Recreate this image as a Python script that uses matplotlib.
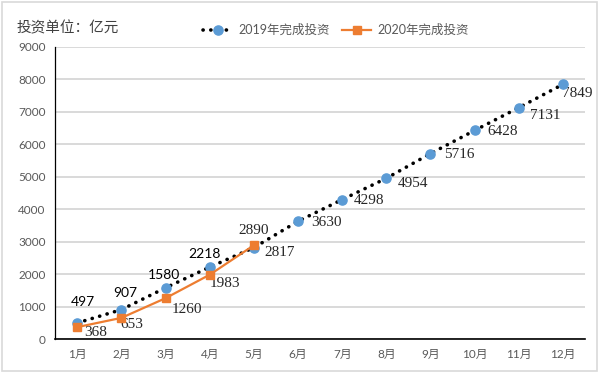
import numpy as np
import matplotlib
matplotlib.use("Agg")
import matplotlib.pyplot as plt
from matplotlib.patches import Rectangle
from matplotlib.lines import Line2D

plt.rcParams["font.family"] = ["Lato", "Noto Sans CJK SC", "DejaVu Sans"]

MONTHS = ["1月", "2月", "3月", "4月", "5月", "6月", "7月", "8月", "9月", "10月", "11月", "12月"]
V2019 = [497, 907, 1580, 2218, 2817, 3630, 4298, 4954, 5716, 6428, 7131, 7849]
V2020 = [368, 653, 1260, 1983, 2890]
YTICKS = [0, 1000, 2000, 3000, 4000, 5000, 6000, 7000, 8000, 9000]

# label offsets in pixels (dx, dy up), and whether sans (True) or serif
OFF19 = [(6, 21), (4, 17), (-2, 13), (-5, 13), (26, -5), (28, -1), (27, -1),
         (27, -5), (29, -1), (28, -1), (26, -8), (14, -9)]
SANS19 = [True, True, True, True] + [False] * 8
OFF20 = [(18, -5), (10, -7), (21, -11), (15, -9), (0, 15)]

BLUE = "#5B9BD5"; ORANGE = "#ED7D31"; GRID = "#D9D9D9"; TXT = "#595959"

fig = plt.figure(figsize=(6, 3.73), dpi=100)
ax = fig.add_axes([0.092, 0.091, 0.883, 0.783])
x = np.arange(1, 13)
x20 = x[:len(V2020)]

ax.plot(x, V2019, color="black", lw=2.6, linestyle=(0, (0.05, 2.1)),
        dash_capstyle="round", zorder=3)
ax.plot(x, V2019, "o", color=BLUE, ms=6.6, zorder=4)
ax.plot(x20, V2020, color=ORANGE, lw=1.6, marker="s", ms=6.2,
        mfc=ORANGE, mec=ORANGE, zorder=5)

px = 0.72  # points per pixel
serif_kw = dict(fontsize=11, color="#262626", family="Liberation Serif")
for xi, v, (dx, dy), s in zip(x, V2019, OFF19, SANS19):
    kw = dict(fontsize=10, color="black") if s else serif_kw
    ax.annotate(f"{v}", (xi, v), xytext=(dx * px, dy * px), textcoords="offset points",
                ha="center", va="center", **kw)
for xi, v, (dx, dy) in zip(x20, V2020, OFF20):
    ax.annotate(f"{v}", (xi, v), xytext=(dx * px, dy * px), textcoords="offset points",
                ha="center", va="center", **serif_kw)

ax.set_xlim(0.5, 12.5)
ax.set_ylim(0, 9000)
ax.set_yticks(YTICKS)
ax.set_xticks(x)
ax.set_xticklabels(MONTHS)
ax.yaxis.grid(True, color=GRID, lw=1.4)
ax.set_axisbelow(True)
for s in ("top", "right"):
    ax.spines[s].set_visible(False)
ax.spines["left"].set_color("black"); ax.spines["left"].set_linewidth(0.9)
ax.spines["bottom"].set_color("black"); ax.spines["bottom"].set_linewidth(1.2)
ax.tick_params(length=0, labelsize=8.5, colors=TXT, pad=7)

fig.text(0.028, 0.925, "投资单位：亿元", fontsize=10.5, color="#404040",
         ha="left", va="center", family=["Noto Sans CJK SC", "DejaVu Sans"])

h1 = (Line2D([], [], color="black", lw=2.6, linestyle=(0, (0.05, 2.1)), dash_capstyle="round"),
      Line2D([], [], marker="o", color=BLUE, ms=6.6, lw=0))
h2 = Line2D([], [], color=ORANGE, lw=1.6, marker="s", ms=6.2)
fig.legend([h1, h2], ["2019年完成投资", "2020年完成投资"], loc="center",
           bbox_to_anchor=(0.56, 0.92), ncol=2, frameon=False, fontsize=9,
           labelcolor=TXT, handlelength=2.3, columnspacing=1.0, handletextpad=0.5)

fig.add_artist(Rectangle((0.004, 0.006), 0.991, 0.988, transform=fig.transFigure,
                         fill=False, ec=GRID, lw=1.2))

fig.savefig("out.png", dpi=100)
